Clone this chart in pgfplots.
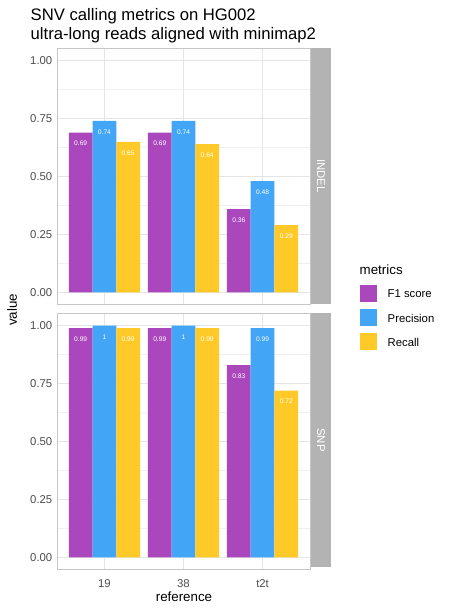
\documentclass[border=0pt]{standalone}
\usepackage{pgfplots}
\pgfplotsset{compat=1.18}
\usepackage{fontspec}
\setmainfont{Liberation Sans}
\definecolor{cF}{HTML}{AB47BC}
\definecolor{cP}{HTML}{42A5F5}
\definecolor{cR}{HTML}{FFCA28}
\definecolor{strip}{HTML}{B3B3B3}
\begin{document}
\begin{tikzpicture}[x=0.75pt,y=-0.75pt]
\path (0,0) rectangle (454,612);
\pgfplotsset{panel/.style={
 scale only axis, width=189.75pt, height=192pt,
 xmin=0.4, xmax=3.6, ymin=-0.05, ymax=1.055,
 xtick={1,2,3}, ytick={0,0.25,0.5,0.75,1},
 yticklabels={0.00,0.25,0.50,0.75,1.00},
 minor ytick={0.125,0.375,0.625,0.875},
 grid=both, major grid style={gray!20,line width=0.6pt}, minor grid style={gray!12,line width=0.4pt},
 axis line style={gray!45}, tick style={draw=none},
 ticklabel style={font=\fontsize{8.5}{9}\selectfont, text=black!70},
 yticklabel style={/pgf/number format/assume math mode=true},
 ybar, bar width=0.3,
 every axis plot/.append style={draw=none},
 nodes near coords, every node near coord/.append style={font=\fontsize{5}{5}\selectfont, text=white, anchor=north, yshift=-3pt},
 point meta=explicit symbolic,
}}
\begin{axis}[panel, at={(42.75pt,-36pt)}, anchor=north west, xticklabels={}, name=a1]
\addplot[fill=cF, bar shift=-0.3] coordinates {(1,0.69)[0.69] (2,0.69)[0.69] (3,0.36)[0.36]};
\addplot[fill=cP, bar shift=0] coordinates {(1,0.74)[0.74] (2,0.74)[0.74] (3,0.48)[0.48]};
\addplot[fill=cR, bar shift=0.3] coordinates {(1,0.65)[0.65] (2,0.64)[0.64] (3,0.29)[0.29]};
\end{axis}
\begin{axis}[panel, at={(42.75pt,-234.75pt)}, anchor=north west, xticklabels={19,38,t2t}, name=a2]
\addplot[fill=cF, bar shift=-0.3] coordinates {(1,0.99)[0.99] (2,0.99)[0.99] (3,0.83)[0.83]};
\addplot[fill=cP, bar shift=0] coordinates {(1,1.00)[1] (2,1.00)[1] (3,0.99)[0.99]};
\addplot[fill=cR, bar shift=0.3] coordinates {(1,0.99)[0.99] (2,0.99)[0.99] (3,0.72)[0.72]};
\end{axis}
\fill[strip] (311,48) rectangle (331,304);
\fill[strip] (311,313) rectangle (331,567);
\node[rotate=-90,text=white,font=\fontsize{8.5}{9}\selectfont] at (321,176) {INDEL};
\node[rotate=-90,text=white,font=\fontsize{8.5}{9}\selectfont] at (321,440) {SNP};
\node[anchor=north west,align=left,font=\fontsize{12.5}{14}\selectfont] at (26,4) {SNV calling metrics on HG002\\ultra-long reads aligned with minimap2};
\node[rotate=90,font=\fontsize{10}{11}\selectfont] at (12,310) {value};
\node[font=\fontsize{10}{11}\selectfont] at (184,597) {reference};
\node[anchor=west,font=\fontsize{10}{11}\selectfont] at (355,270) {metrics};
\fill[cF] (360,285) rectangle (377,302);
\fill[cP] (360,309) rectangle (377,326);
\fill[cR] (360,333) rectangle (377,350);
\node[anchor=west,font=\fontsize{8.5}{9}\selectfont] at (383,294) {F1 score};
\node[anchor=west,font=\fontsize{8.5}{9}\selectfont] at (383,318) {Precision};
\node[anchor=west,font=\fontsize{8.5}{9}\selectfont] at (383,342) {Recall};
\end{tikzpicture}
\end{document}
